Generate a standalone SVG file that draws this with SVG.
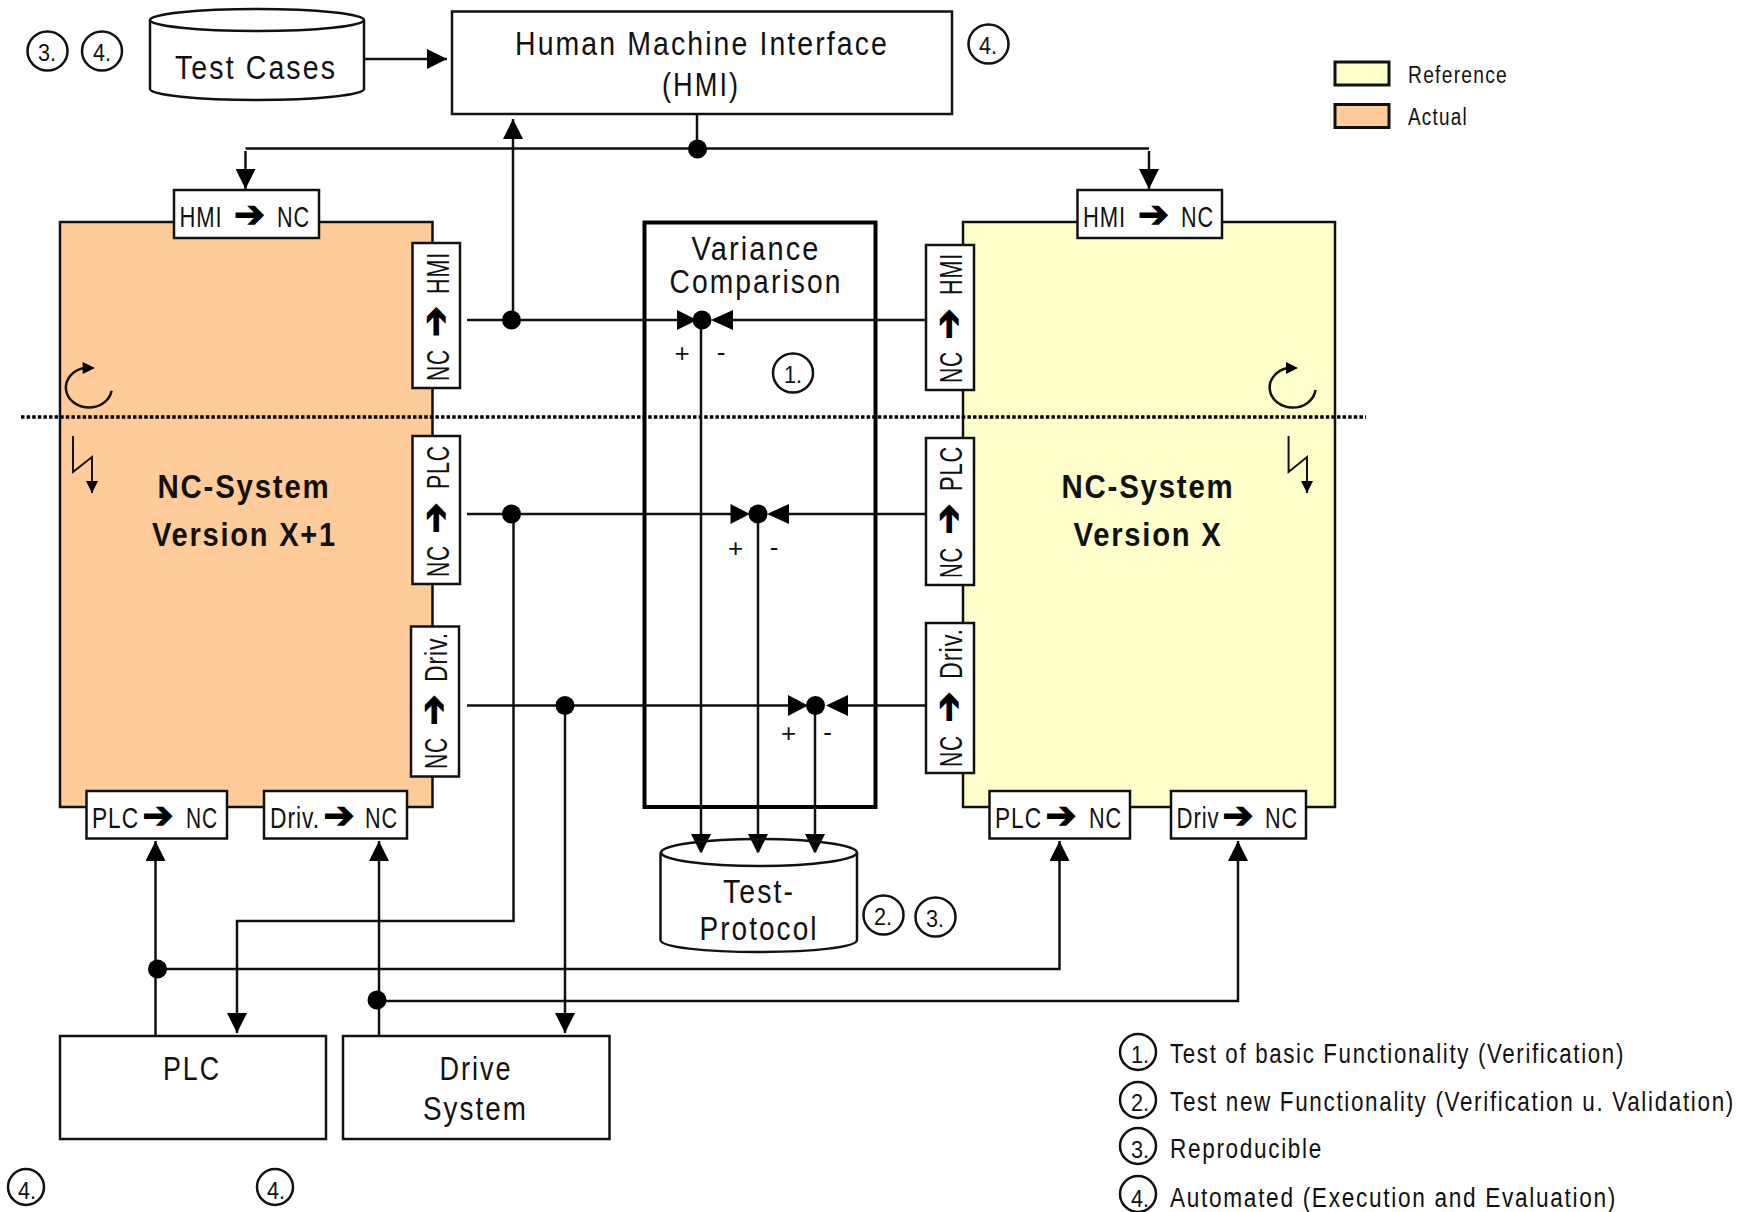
<svg xmlns="http://www.w3.org/2000/svg" width="1755" height="1212" viewBox="0 0 1755 1212">
<style>
text{font-family:"Liberation Sans",Arial,sans-serif;fill:#111}
.b{fill:#fff;stroke:#111;stroke-width:2.5}
.sys{stroke:#111;stroke-width:2.5}
.big{font-size:34px;letter-spacing:2.5px;text-anchor:middle}
.title{font-size:33px;letter-spacing:2px;text-anchor:middle;font-weight:bold}
.port{font-size:29px;letter-spacing:1.2px}
.rp{font-size:31px;letter-spacing:1.2px}
.ar{font-family:"DejaVu Sans",sans-serif;font-size:37px;fill:#000;stroke:#000;stroke-width:1.2;text-anchor:middle}
.leg{font-size:27px;letter-spacing:2px}
.key{font-size:23px;letter-spacing:1.5px}
.sign{font-size:26px;text-anchor:middle}
.num{font-size:24px;text-anchor:middle}
.cirn{fill:none;stroke:#111;stroke-width:2.5}
.l{fill:none;stroke:#111;stroke-width:2.5}
.d{fill:#000}
</style>
<defs>
<marker id="h" markerUnits="userSpaceOnUse" viewBox="0 0 20 20" refX="20" refY="10" markerWidth="20" markerHeight="20" orient="auto"><path d="M0 0L20 10L0 20Z" fill="#000"/></marker>
<marker id="hs" markerUnits="userSpaceOnUse" viewBox="0 0 12 12" refX="12" refY="6" markerWidth="12" markerHeight="12" orient="auto"><path d="M0 0L12 6L0 12Z" fill="#000"/></marker>
</defs>

<g id="system-actual">
<rect x="60" y="222" width="372.5" height="585" fill="#ffcc99" class="sys"/>
<text class="title" x="244" y="498" textLength="173" lengthAdjust="spacingAndGlyphs">NC-System</text>
<text class="title" x="244.500" y="546" textLength="185" lengthAdjust="spacingAndGlyphs">Version X+1</text>
</g>
<g id="system-reference">
<rect x="963" y="222" width="372" height="585" fill="#ffffcc" class="sys"/>
<text class="title" x="1148" y="498" textLength="173" lengthAdjust="spacingAndGlyphs">NC-System</text>
<text class="title" x="1148" y="546" textLength="149" lengthAdjust="spacingAndGlyphs">Version X</text>
</g>
<g id="variance-comparison">
<rect x="644.5" y="222.5" width="231" height="584.5" fill="#fff" stroke="#000" stroke-width="4"/>
<text class="big" x="756" y="260" textLength="129" lengthAdjust="spacingAndGlyphs">Variance</text>
<text class="big" x="756" y="293" textLength="173" lengthAdjust="spacingAndGlyphs">Comparison</text>
</g>

<path d="M21 417H1366" fill="none" stroke="#000" stroke-width="3.5" stroke-dasharray="3.5 2.1"/>

<g id="connectors">
<path class="l" d="M365 59H447" marker-end="url(#h)"/>
<path class="l" d="M697 114V148.500M245.500 148.500H1149"/>
<path class="l" d="M245.500 151V189" marker-end="url(#h)"/>
<path class="l" d="M1149 151V189" marker-end="url(#h)"/>
<path class="l" d="M513 320V119" marker-end="url(#h)"/>
<path class="l" d="M467 320H682M929 320H728"/>
<path class="l" d="M467 514H735M929 514H785"/>
<path class="l" d="M467 705.500H793M929 705.500H843"/>
<path class="l" d="M701 320V854" marker-end="url(#h)"/>
<path class="l" d="M758 514V854" marker-end="url(#h)"/>
<path class="l" d="M815 706V854" marker-end="url(#h)"/>
<path class="l" d="M513.500 514V921H237V1033" marker-end="url(#h)"/>
<path class="l" d="M565 706V1033" marker-end="url(#h)"/>
<path class="l" d="M155.500 1036V841" marker-end="url(#h)"/>
<path class="l" d="M379 1036V841" marker-end="url(#h)"/>
<path class="l" d="M157 969H1059.500V841" marker-end="url(#h)"/>
<path class="l" d="M377 1001H1238V841" marker-end="url(#h)"/>
<path class="d" d="M677 310L697 320L677 330ZM733 310L711 320L733 330ZM730.500 504L750 514L730.500 524ZM789 504L767 514L789 524ZM788 695L808 705.500L788 716ZM848 695L826 705.500L848 716Z"/>
<circle class="d" cx="697.500" cy="149" r="9.500"/>
<circle class="d" cx="511.500" cy="320" r="9.500"/>
<circle class="d" cx="702" cy="320" r="9.500"/>
<circle class="d" cx="511.500" cy="514" r="9.500"/>
<circle class="d" cx="758" cy="514" r="9.500"/>
<circle class="d" cx="565" cy="705.500" r="9.500"/>
<circle class="d" cx="815.500" cy="705.500" r="9.500"/>
<circle class="d" cx="157.500" cy="969" r="9.500"/>
<circle class="d" cx="377" cy="1000" r="9.500"/>
</g>

<g id="signs">
<text class="sign" x="682" y="362">+</text><text class="sign" x="721" y="361">-</text>
<text class="sign" x="735.500" y="557">+</text><text class="sign" x="774" y="556">-</text>
<text class="sign" x="788.700" y="742">+</text><text class="sign" x="827.500" y="741">-</text>
</g>

<g id="test-cases">
<path class="b" d="M150 20V89C150 95 198 100 257 100S364 95 364 89V20"/>
<ellipse class="b" cx="257" cy="20" rx="107" ry="11"/>
<text class="big" x="256" y="79" textLength="162" lengthAdjust="spacingAndGlyphs">Test Cases</text>
</g>
<g id="hmi">
<rect class="b" x="452" y="11.500" width="500" height="102.500"/>
<text class="big" x="702" y="55" textLength="374" lengthAdjust="spacingAndGlyphs">Human Machine Interface</text>
<text class="big" x="701" y="96" textLength="78" lengthAdjust="spacingAndGlyphs">(HMI)</text>
</g>
<g id="test-protocol">
<path class="b" d="M660.500 852.500V940C660.500 947 704 952 759 952S857 947 857 940V852.500"/>
<ellipse class="b" cx="759" cy="852.500" rx="98" ry="13.500" style="fill:none"/>
<text class="big" x="759" y="903" textLength="72" lengthAdjust="spacingAndGlyphs">Test-</text>
<text class="big" x="759" y="940" textLength="119" lengthAdjust="spacingAndGlyphs">Protocol</text>
</g>
<g id="plc"><rect class="b" x="60" y="1036" width="266" height="103"/><text class="big" x="192" y="1080" textLength="58" lengthAdjust="spacingAndGlyphs">PLC</text></g>
<g id="drive-system"><rect class="b" x="343" y="1036" width="266.500" height="103"/><text class="big" x="476" y="1080" textLength="73" lengthAdjust="spacingAndGlyphs">Drive</text><text class="big" x="475.500" y="1120" textLength="105" lengthAdjust="spacingAndGlyphs">System</text></g>

<g id="port-a-hmi-nc"><rect class="b" x="174" y="190" width="145" height="48"/><text class="port" x="179.500" y="227" textLength="43" lengthAdjust="spacingAndGlyphs">HMI</text><text class="ar" x="249.500" y="227">➔</text><text class="port" x="277" y="227" textLength="33" lengthAdjust="spacingAndGlyphs">NC</text></g>
<g id="port-r-hmi-nc"><rect class="b" x="1077.500" y="190" width="144.500" height="48"/><text class="port" x="1083" y="227" textLength="43" lengthAdjust="spacingAndGlyphs">HMI</text><text class="ar" x="1153.500" y="227">➔</text><text class="port" x="1181" y="227" textLength="33" lengthAdjust="spacingAndGlyphs">NC</text></g>
<g id="port-a-plc-nc"><rect class="b" x="86.500" y="791" width="140.500" height="47.500"/><text class="port" transform="translate(92 828) scale(.78 1)" textLength="60.300" lengthAdjust="spacingAndGlyphs">PLC</text><text class="ar" x="158" y="828">➔</text><text class="port" transform="translate(186 828) scale(.75 1)" textLength="42.700" lengthAdjust="spacingAndGlyphs">NC</text></g>
<g id="port-a-drv-nc"><rect class="b" x="264" y="791" width="143" height="47.500"/><text class="port" transform="translate(270 828) scale(.76 1)" textLength="65.800" lengthAdjust="spacingAndGlyphs">Driv.</text><text class="ar" x="339" y="828">➔</text><text class="port" transform="translate(365 828) scale(.75 1)" textLength="44" lengthAdjust="spacingAndGlyphs">NC</text></g>
<g id="port-r-plc-nc"><rect class="b" x="989.500" y="791" width="140.500" height="47.500"/><text class="port" transform="translate(995 828) scale(.78 1)" textLength="60.300" lengthAdjust="spacingAndGlyphs">PLC</text><text class="ar" x="1061" y="828">➔</text><text class="port" transform="translate(1089 828) scale(.75 1)" textLength="44" lengthAdjust="spacingAndGlyphs">NC</text></g>
<g id="port-r-drv-nc"><rect class="b" x="1171" y="791" width="135" height="47.500"/><text class="port" transform="translate(1176.500 828) scale(.76 1)" textLength="56.600" lengthAdjust="spacingAndGlyphs">Driv</text><text class="ar" x="1238" y="828">➔</text><text class="port" transform="translate(1265 828) scale(.75 1)" textLength="44" lengthAdjust="spacingAndGlyphs">NC</text></g>

<g id="port-a-nc-hmi"><rect class="b" x="412.500" y="243" width="47.500" height="145"/><g transform="translate(449 381) rotate(-90)"><text class="rp" x="0" y="0" textLength="32" lengthAdjust="spacingAndGlyphs">NC</text><text class="ar" x="59.500" y="-1">➔</text><text class="rp" x="87" y="0" textLength="42" lengthAdjust="spacingAndGlyphs">HMI</text></g></g>
<g id="port-a-nc-plc"><rect class="b" x="412.500" y="436" width="47.500" height="148"/><g transform="translate(449 577) rotate(-90)"><text class="rp" x="0" y="0" textLength="32" lengthAdjust="spacingAndGlyphs">NC</text><text class="ar" x="59" y="-1">➔</text><text class="rp" x="88" y="0" textLength="44" lengthAdjust="spacingAndGlyphs">PLC</text></g></g>
<g id="port-a-nc-drv"><rect class="b" x="411" y="626.500" width="48" height="150"/><g transform="translate(447 769) rotate(-90)"><text class="rp" x="0" y="0" textLength="32" lengthAdjust="spacingAndGlyphs">NC</text><text class="ar" x="59" y="-1">➔</text><text class="rp" x="87" y="0" textLength="50" lengthAdjust="spacingAndGlyphs">Driv.</text></g></g>
<g id="port-r-nc-hmi"><rect class="b" x="926" y="245" width="48" height="145"/><g transform="translate(962 383) rotate(-90)"><text class="rp" x="0" y="0" textLength="32" lengthAdjust="spacingAndGlyphs">NC</text><text class="ar" x="59" y="-1">➔</text><text class="rp" x="88" y="0" textLength="42" lengthAdjust="spacingAndGlyphs">HMI</text></g></g>
<g id="port-r-nc-plc"><rect class="b" x="926" y="438" width="48" height="147"/><g transform="translate(962 578) rotate(-90)"><text class="rp" x="0" y="0" textLength="31" lengthAdjust="spacingAndGlyphs">NC</text><text class="ar" x="59" y="-1">➔</text><text class="rp" x="87" y="0" textLength="45" lengthAdjust="spacingAndGlyphs">PLC</text></g></g>
<g id="port-r-nc-drv"><rect class="b" x="926" y="623" width="48" height="150"/><g transform="translate(962 767) rotate(-90)"><text class="rp" x="0" y="0" textLength="32" lengthAdjust="spacingAndGlyphs">NC</text><text class="ar" x="60" y="-1">➔</text><text class="rp" x="88" y="0" textLength="51" lengthAdjust="spacingAndGlyphs">Driv.</text></g></g>

<g id="cycle-icons">
<path class="l" d="M111.600 390.700A23 20 0 1 1 84 368"/><path class="d" d="M82.600 362L95 368L82.600 374Z"/>
<path class="l" d="M1315.500 390A23 20 0 1 1 1288 368"/><path class="d" d="M1286 362L1298 368L1286 374Z"/>
<path class="l" d="M73 436V472L92 457V493" marker-end="url(#hs)" style="stroke-width:2"/>
<path class="l" d="M1288.600 436V472L1307 457V493" marker-end="url(#hs)" style="stroke-width:2"/>
</g>

<g id="badges">
<ellipse class="cirn" cx="47.500" cy="51" rx="20" ry="19.500"/><text class="num" x="47" y="61" textLength="18" lengthAdjust="spacingAndGlyphs">3.</text>
<ellipse class="cirn" cx="102" cy="51" rx="20" ry="19.500"/><text class="num" x="102" y="61" textLength="18" lengthAdjust="spacingAndGlyphs">4.</text>
<ellipse class="cirn" cx="988.500" cy="44" rx="20" ry="19.500"/><text class="num" x="988" y="54" textLength="18" lengthAdjust="spacingAndGlyphs">4.</text>
<ellipse class="cirn" cx="793" cy="373" rx="20" ry="19.500"/><text class="num" x="793" y="383" textLength="18" lengthAdjust="spacingAndGlyphs">1.</text>
<ellipse class="cirn" cx="883.500" cy="915" rx="20" ry="19.500"/><text class="num" x="883" y="925" textLength="18" lengthAdjust="spacingAndGlyphs">2.</text>
<ellipse class="cirn" cx="935.500" cy="917" rx="20" ry="19.500"/><text class="num" x="935" y="927" textLength="18" lengthAdjust="spacingAndGlyphs">3.</text>
<ellipse class="cirn" cx="26" cy="1187" rx="18" ry="18"/><text class="num" x="27" y="1199" textLength="18" lengthAdjust="spacingAndGlyphs">4.</text>
<ellipse class="cirn" cx="275" cy="1187" rx="18" ry="18"/><text class="num" x="276" y="1199" textLength="18" lengthAdjust="spacingAndGlyphs">4.</text>
</g>

<g id="legend">
<rect x="1335" y="62" width="54" height="23" fill="#ffffcc" stroke="#111" stroke-width="3"/><text class="key" x="1408" y="83" textLength="100" lengthAdjust="spacingAndGlyphs">Reference</text>
<rect x="1335" y="104.500" width="54" height="23" fill="#ffcc99" stroke="#111" stroke-width="3"/><text class="key" x="1408" y="125" textLength="60" lengthAdjust="spacingAndGlyphs">Actual</text>
<ellipse class="cirn" cx="1138" cy="1052" rx="18" ry="18"/><text class="num" x="1140" y="1063" textLength="18" lengthAdjust="spacingAndGlyphs">1.</text><text class="leg" x="1170" y="1063" textLength="455" lengthAdjust="spacingAndGlyphs">Test of basic Functionality (Verification)</text>
<ellipse class="cirn" cx="1138" cy="1100" rx="18" ry="18"/><text class="num" x="1140" y="1111" textLength="18" lengthAdjust="spacingAndGlyphs">2.</text><text class="leg" transform="translate(1170 1111) scale(.83 1)" textLength="680.700" lengthAdjust="spacingAndGlyphs">Test new Functionality (Verification u. Validation)</text>
<ellipse class="cirn" cx="1138" cy="1146" rx="18" ry="18"/><text class="num" x="1140" y="1158" textLength="18" lengthAdjust="spacingAndGlyphs">3.</text><text class="leg" x="1170" y="1158" textLength="153" lengthAdjust="spacingAndGlyphs">Reproducible</text>
<ellipse class="cirn" cx="1138" cy="1194" rx="18" ry="18"/><text class="num" x="1140" y="1207" textLength="18" lengthAdjust="spacingAndGlyphs">4.</text><text class="leg" x="1170" y="1207" textLength="447" lengthAdjust="spacingAndGlyphs">Automated (Execution and Evaluation)</text>
</g>
</svg>
